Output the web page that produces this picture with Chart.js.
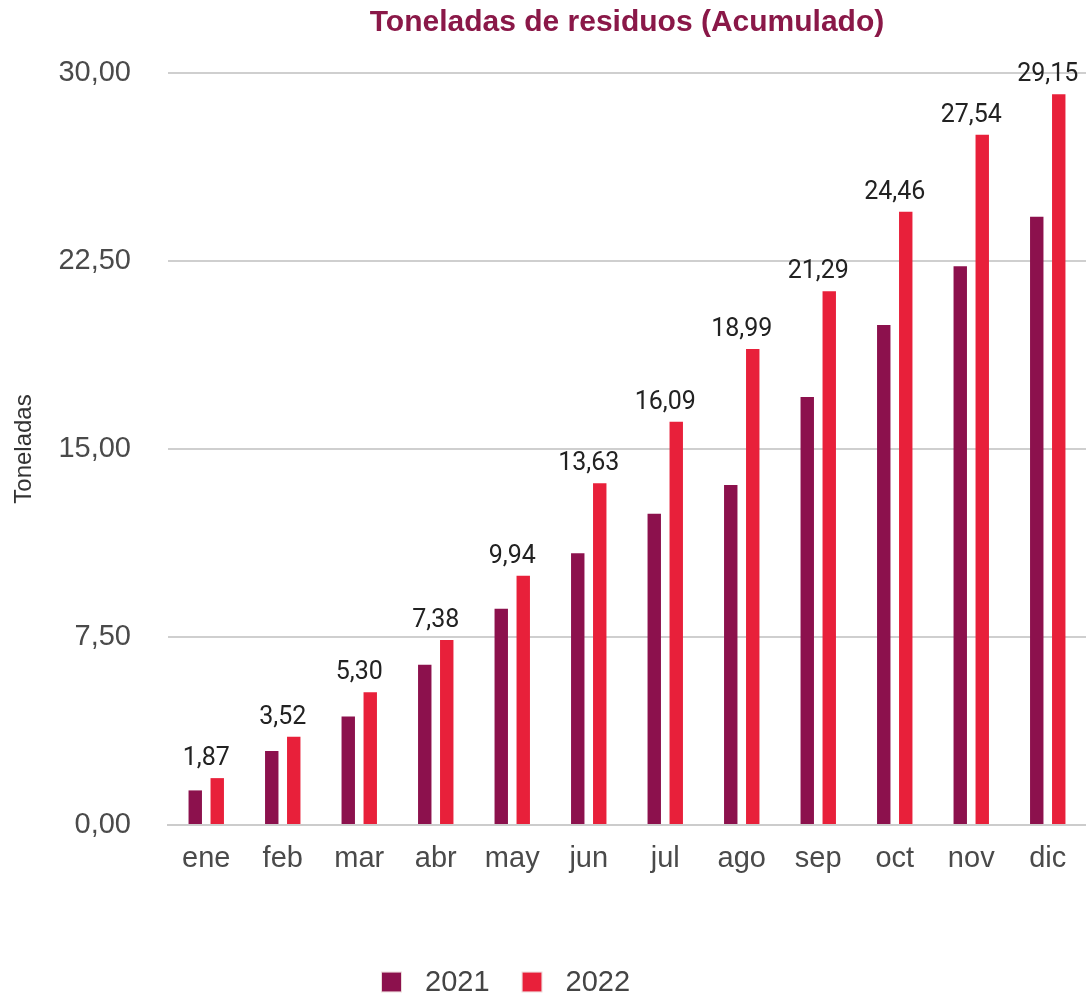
<!DOCTYPE html>
<html>
<head>
<meta charset="utf-8">
<script src="https://cdn.jsdelivr.net/npm/chart.js@4/dist/chart.umd.min.js"></script>
<style>
html,body{margin:0;padding:0;background:#fff;}
#wrap{width:1086px;height:1001px;position:relative;}
</style>
</head>
<body>
<div id="wrap"><canvas id="c" width="1086" height="1001"></canvas></div>
<script>
const categories = ['ene','feb','mar','abr','may','jun','jul','ago','sep','oct','nov','dic'];
const seriesNames = ['2021','2022'];
const values2021 = [1.38, 2.95, 4.33, 6.39, 8.63, 10.84, 12.42, 13.56, 17.07, 19.95, 22.29, 24.27];
const values2022 = [1.87, 3.52, 5.30, 7.38, 9.94, 13.63, 16.09, 18.99, 21.29, 24.46, 27.54, 29.15];
const yTicks = [0, 7.5, 15, 22.5, 30];

const fmt = v => v.toFixed(2).replace('.', ',');

const dataLabels = {
  id: 'dataLabels',
  afterDatasetsDraw(chart) {
    const ctx = chart.ctx;
    const meta = chart.getDatasetMeta(1);
    const xs = chart.scales.x;
    ctx.save();
    ctx.font = '25px Roboto';
    ctx.fillStyle = '#222222';
    ctx.textAlign = 'center';
    ctx.textBaseline = 'alphabetic';
    meta.data.forEach((bar, i) => {
      const x = xs.getPixelForValue(i);
      ctx.fillText(fmt(values2022[i]), x, bar.y - 13);
    });
    ctx.restore();
  }
};

// title centred over the plot area
const shiftTitle = {
  id: 'shiftTitle',
  afterLayout(chart) {
    const t = chart.titleBlock;
    if (t) {
      const mid = (chart.chartArea.left + chart.chartArea.right) / 2;
      const cur = (t.left + t.right) / 2;
      t.left += mid - cur;
      t.right += mid - cur;
    }
  }
};

// legend drawn below the axis, using the dataset labels and colours
const bottomLegend = {
  id: 'bottomLegend',
  afterDraw(chart) {
    const ctx = chart.ctx;
    ctx.save();
    ctx.font = '29px "Liberation Sans"';
    ctx.textBaseline = 'middle';
    ctx.textAlign = 'left';
    const box = 19, gap = 24, spacing = 33, cy = 982;
    let x = 382;
    chart.data.datasets.forEach(ds => {
      ctx.fillStyle = ds.backgroundColor;
      ctx.fillRect(x, cy - box / 2, box, box);
      ctx.strokeStyle = 'rgba(200,150,150,0.35)';
      ctx.lineWidth = 1;
      ctx.strokeRect(x - 0.5, cy - box / 2 - 0.5, box + 1, box + 1);
      x += box + gap;
      ctx.fillStyle = '#444444';
      ctx.fillText(ds.label, x, cy + 1);
      x += ctx.measureText(ds.label).width + spacing;
    });
    ctx.restore();
  }
};

new Chart(document.getElementById('c'), {
  type: 'bar',
  data: {
    labels: categories,
    datasets: [
      { label: seriesNames[0], data: values2021, backgroundColor: '#8c114d', borderWidth: 0 },
      { label: seriesNames[1], data: values2022, backgroundColor: '#e8203a', borderWidth: 0 }
    ]
  },
  options: {
    responsive: false,
    animation: false,
    devicePixelRatio: 1,
    layout: { padding: { left: 0, right: 0, top: 0, bottom: 0 } },
    datasets: { bar: { categoryPercentage: 0.575, barPercentage: 0.61 } },
    plugins: {
      title: {
        display: true,
        text: 'Toneladas de residuos (Acumulado)',
        color: '#8a1848',
        font: { family: 'Liberation Sans', size: 30, weight: 'bold' },
        padding: { top: 5, bottom: 32 },
        align: 'center'
      },
      legend: { display: false },
      tooltip: { enabled: false }
    },
    scales: {
      x: {
        grid: { display: false },
        border: { display: true, color: '#cccccc', width: 2 },
        ticks: {
          color: '#4a4a4a',
          font: { family: 'Liberation Sans', size: 29 },
          padding: 9
        },
        afterFit(scale) { scale.height = 176; }
      },
      y: {
        min: 0,
        max: 30,
        afterBuildTicks(scale) { scale.ticks = yTicks.map(v => ({ value: v })); },
        grid: { color: '#cfcfcf', lineWidth: 2, drawTicks: false },
        border: { display: false },
        ticks: {
          color: '#4a4a4a',
          font: { family: 'Liberation Sans', size: 29 },
          padding: 37,
          callback: v => fmt(v)
        },
        title: {
          display: true,
          text: 'Toneladas',
          color: '#333333',
          font: { family: 'Liberation Sans', size: 24 },
          padding: { top: 10, bottom: 0 }
        },
        afterFit(scale) { scale.width = 168; }
      }
    }
  },
  plugins: [dataLabels, shiftTitle, bottomLegend]
});
</script>
</body>
</html>
